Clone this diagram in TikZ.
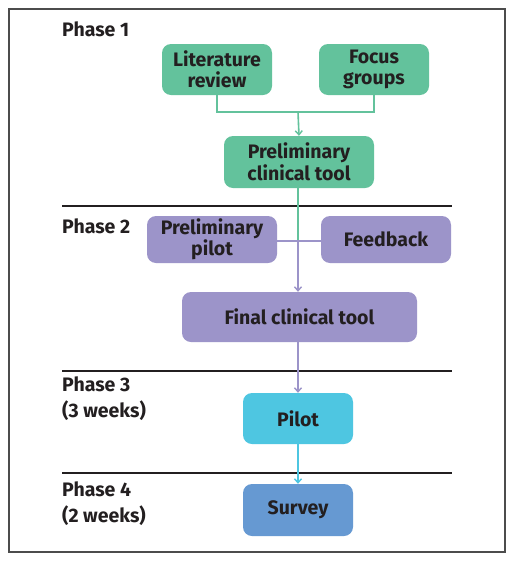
\documentclass[tikz,border=0pt]{standalone}
\usepackage{fontspec}
\setmainfont{Fira Sans}
\usetikzlibrary{arrows.meta}
\definecolor{cgreen}{HTML}{63C29C}
\definecolor{cpurple}{HTML}{9C94C9}
\definecolor{ccyan}{HTML}{4EC6E1}
\definecolor{cblue}{HTML}{6699D2}
\definecolor{ctext}{HTML}{231F20}
\begin{document}
\begin{tikzpicture}[x=1pt,y=-1pt,
  box/.style={rounded corners=9pt, draw=none, align=center, text=ctext,
    font=\fontsize{19.5}{21.5}\selectfont\bfseries, inner sep=0pt},
  lbl/.style={anchor=west, align=left, text=ctext,
    font=\fontsize{19.5}{26}\selectfont\bfseries, inner sep=0pt},
  conn/.style={line width=1.6pt},
  tip/.style={-{Straight Barb[length=4pt,width=7pt,line width=1.4pt]}},
  sep/.style={line width=1.6pt, ctext}]
\useasboundingbox (0,0) rectangle (515,563);
\fill[white] (0,0) rectangle (515,563);
\draw[line width=1.4pt, black!70] (9,9) rectangle (505,552);

% separators
\draw[sep] (62,206) -- (452,206);
\draw[sep] (62,371) -- (452,371);
\draw[sep] (62,473) -- (452,473);

% phase labels
\node[lbl] (p1) at (62,29) {Phase 1};
\node[lbl] (p2) at (62,226) {Phase 2};
\node[lbl, anchor=north west] (p3) at (62,377) {Phase 3\\(3 weeks)};
\node[lbl, anchor=north west] (p4) at (62,482) {Phase 4\\(2 weeks)};

% boxes
\node[box, fill=cgreen, minimum width=110pt, minimum height=51pt] (lit) at (217,69.5) {Literature\\review};
\node[box, fill=cgreen, minimum width=110pt, minimum height=51pt] (foc) at (374,69.5) {Focus\\groups};
\node[box, fill=cgreen, minimum width=150pt, minimum height=52pt] (pct) at (299,162) {Preliminary\\clinical tool};
\node[box, fill=cpurple, minimum width=130pt, minimum height=47pt] (pp) at (212,239.5) {Preliminary\\pilot};
\node[box, fill=cpurple, minimum width=130pt, minimum height=47pt] (fb) at (386,239.5) {Feedback};
\node[box, fill=cpurple, minimum width=235pt, minimum height=50pt] (fct) at (299.5,317) {Final clinical tool};
\node[box, fill=ccyan, minimum width=110pt, minimum height=51pt] (pil) at (298,418.5) {Pilot};
\node[box, fill=cblue, minimum width=110pt, minimum height=52pt] (sur) at (298,510) {Survey};

% connectors
\coordinate (j1) at (298,112);
\coordinate (j2) at (298,241);
\draw[conn, cgreen] (lit.south) |- (j1) -| (foc.south);
\draw[conn, cgreen, tip] (j1) -- (pct.north);
\draw[conn, cgreen] (pct.south -| j1) -- (j2);
\draw[conn, cpurple] (pp.east |- j2) -- (fb.west |- j2);
\draw[conn, cpurple, tip] (j2) -- (fct.north -| j2);
\draw[conn, cpurple, tip] (fct.south -| j2) -- (pil.north -| j2);
\draw[conn, ccyan, tip] (pil.south -| j2) -- (sur.north -| j2);
\end{tikzpicture}
\end{document}
